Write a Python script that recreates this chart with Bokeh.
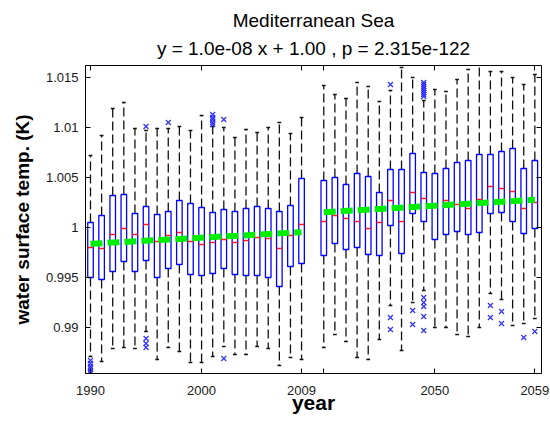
from bokeh.plotting import figure
from bokeh.models import Range1d, FixedTicker, LinearAxis, Title, CustomJSTickFormatter
from bokeh.embed import file_html
from bokeh.resources import INLINE

# ---------------- data ----------------
years = list(range(1990, 2010)) + list(range(2040, 2060))

q3 = [1.0005, 1.0012, 1.0032, 1.0033, 1.0014, 1.0021, 1.0013, 1.0016, 1.0027, 1.0024,
      1.0020, 1.0015, 1.0018, 1.0016, 1.0019, 1.0021, 1.0019, 1.0016, 1.0022, 1.0049,
      1.0047, 1.0050, 1.0043, 1.0054, 1.0051, 1.0035, 1.0058, 1.0058, 1.0074, 1.0055,
      1.0054, 1.0059, 1.0065, 1.0067, 1.0073, 1.0073, 1.0076, 1.0079, 1.0059, 1.0067]
median = [0.9980, 0.9979, 0.9993, 0.9999, 0.9993, 1.0003, 0.9986, 0.9992, 0.9995, 0.9986,
          0.9983, 0.9985, 0.9988, 0.9985, 0.9987, 0.9990, 0.9989, 0.9979, 0.9992, 1.0003,
          1.0006, 1.0012, 1.0009, 1.0006, 0.9999, 1.0005, 1.0027, 1.0006, 1.0035, 1.0029,
          1.0022, 1.0027, 1.0023, 1.0019, 1.0028, 1.0041, 1.0039, 1.0036, 1.0019, 1.0025]
q1 = [0.9950, 0.9948, 0.9956, 0.9966, 0.9956, 0.9967, 0.9950, 0.9959, 0.9963, 0.9953,
      0.9952, 0.9954, 0.9959, 0.9953, 0.9952, 0.9952, 0.9950, 0.9941, 0.9961, 0.9964,
      0.9972, 0.9984, 0.9978, 0.9980, 0.9973, 0.9972, 1.0002, 0.9974, 1.0014, 1.0006,
      0.9988, 0.9993, 0.9996, 0.9993, 0.9995, 1.0014, 1.0015, 1.0006, 0.9994, 0.9999]
whisker_hi = [1.0072, 1.0092, 1.0119, 1.0125, 1.0099, 1.0097, 1.0099, 1.0099, 1.0101, 1.0097,
              1.0112, 1.0101, 1.0100, 1.0090, 1.0098, 1.0095, 1.0100, 1.0105, 1.0094, 1.0110,
              1.0142, 1.0133, 1.0129, 1.0145, 1.0141, 1.0126, 1.0137, 1.0160, 1.0150, 1.0127,
              1.0138, 1.0136, 1.0148, 1.0158, 1.0170, 1.0156, 1.0156, 1.0150, 1.0143, 1.0153]
whisker_lo = [0.9871, 0.9866, 0.9879, 0.9880, 0.9879, 0.9896, 0.9868, 0.9880, 0.9876, 0.9865,
              0.9865, 0.9871, 0.9881, 0.9873, 0.9873, 0.9881, 0.9879, 0.9862, 0.9870, 0.9868,
              0.9880, 0.9893, 0.9886, 0.9870, 0.9868, 0.9888, 0.9922, 0.9877, 0.9925, 0.9937,
              0.9900, 0.9900, 0.9893, 0.9891, 0.9900, 0.9934, 0.9928, 0.9902, 0.9904, 0.9909]

outlier_years = [1990, 1990, 1990, 1990, 1990, 1990,
                 1995, 1995, 1995, 1995,
                 1997,
                 2001, 2001, 2001, 2001, 2001,
                 2002, 2002,
                 2046, 2046, 2046,
                 2048, 2048,
                 2049, 2049, 2049, 2049, 2049, 2049, 2049, 2049,
                 2049, 2049, 2049, 2049, 2049,
                 2055, 2055,
                 2056, 2056,
                 2058,
                 2059]
outlier_values = [0.9867, 0.9864, 0.9861, 0.9859, 0.9856, 0.9854,
                  1.0101, 0.9889, 0.9884, 0.9880,
                  1.0105,
                  1.0113, 1.0110, 1.0108, 1.0105, 1.0103,
                  1.0108, 0.9869,
                  1.0143, 0.9910, 0.9898,
                  0.9917, 0.9903,
                  1.0145, 1.0143, 1.0141, 1.0139, 1.0137, 1.0135, 1.0133, 1.0131,
                  0.9930, 0.9925, 0.9921, 0.9911, 0.9897,
                  0.9922, 0.9910,
                  0.9916, 0.9904,
                  0.9890,
                  0.9896]

trend_years = [[1990, 2009], [2040, 2059]]
trend_values = [[0.99837, 0.99953], [1.00153, 1.00277]]

tick_years = [1990, 2000, 2009, 2040, 2050, 2059]
tick_texts = ["1990", "2000", "2009", "", "2050", "2059"]
y_ticks = [0.99, 0.995, 1.0, 1.005, 1.01, 1.015]

title1 = "Mediterranean Sea"
title2 = "y = 1.0e-08 x + 1.00 , p = 2.315e-122"

# -------------- slot positions (second period shifted by one empty slot) --------------
def slot(yr):
    return yr - 1990 if yr < 2040 else yr - 2040 + 21

xs = [slot(y) for y in years]
hw = 0.25
cw = 0.17

FONT = "Liberation Sans"

p = figure(width=550, height=433,
           x_range=Range1d(-0.45, 40.6), y_range=Range1d(0.9854, 1.0162),
           output_backend="svg", toolbar_location=None, title=None,
           min_border_left=85, min_border_right=9, min_border_top=65, min_border_bottom=60)
p.background_fill_color = "white"
p.border_fill_color = "white"
p.outline_line_color = "black"
p.outline_line_width = 1
p.xgrid.visible = False
p.ygrid.visible = False

# whiskers
p.segment(x0=xs, y0=q3, x1=xs, y1=whisker_hi, line_color="#111111", line_width=1.3, line_dash="9 4")
p.segment(x0=xs, y0=q1, x1=xs, y1=whisker_lo, line_color="#111111", line_width=1.3, line_dash="9 4")
# caps
p.segment(x0=[x - cw for x in xs], y0=whisker_hi, x1=[x + cw for x in xs], y1=whisker_hi,
          line_color="#111111", line_width=1.3)
p.segment(x0=[x - cw for x in xs], y0=whisker_lo, x1=[x + cw for x in xs], y1=whisker_lo,
          line_color="#111111", line_width=1.3)
# boxes
p.quad(left=[x - hw for x in xs], right=[x + hw for x in xs], bottom=q1, top=q3,
       fill_color=None, line_color="#0000ff", line_width=1.3)
# medians
p.segment(x0=[x - hw for x in xs], y0=median, x1=[x + hw for x in xs], y1=median,
          line_color="#ff1a1a", line_width=1.5)
# trend
for ty, tv in zip(trend_years, trend_values):
    p.line(x=[slot(y) for y in ty], y=tv, line_color="#00ee00", line_width=6, line_dash="12 5")
# outliers
p.scatter(x=[slot(y) for y in outlier_years], y=outlier_values, marker="x", size=7,
          line_color="#3030ff", line_width=1.2)

# axes
xt = [slot(y) for y in tick_years]
overrides = {t: s for t, s in zip(xt, tick_texts)}
yfmt = CustomJSTickFormatter(code="return String(Math.round(tick*1000)/1000);")
blank = CustomJSTickFormatter(code="return '';")

for ax in p.xaxis:
    ax.ticker = FixedTicker(ticks=xt)
    ax.major_label_overrides = overrides
for ax in p.yaxis:
    ax.ticker = FixedTicker(ticks=y_ticks)
    ax.formatter = yfmt

p.xaxis.axis_label = "year"
p.yaxis.axis_label = "water surface temp. (K)"
for ax in list(p.xaxis) + list(p.yaxis):
    ax.major_tick_in = 5
    ax.major_tick_out = 0
    ax.minor_tick_in = 0
    ax.minor_tick_out = 0
    ax.axis_line_color = "black"
    ax.major_tick_line_color = "black"
    ax.major_label_text_font = FONT
    ax.major_label_text_font_size = "13px"
    ax.major_label_text_color = "#1a1a1a"
    ax.axis_label_text_font = FONT
    ax.axis_label_text_font_style = "bold"
    ax.axis_label_text_color = "black"
p.xaxis.major_label_standoff = 12
p.yaxis.major_label_standoff = 7
p.xaxis.axis_label_text_font_size = "21px"
p.yaxis.axis_label_text_font_size = "19px"
p.xaxis.axis_label_standoff = -7
p.yaxis.axis_label_standoff = 10

# mirrored ticks (top/right)
top_ax = LinearAxis(ticker=FixedTicker(ticks=xt), formatter=blank, major_tick_in=5, major_tick_out=0,
                    major_label_standoff=0, axis_line_color=None, major_tick_line_color="black")
right_ax = LinearAxis(ticker=FixedTicker(ticks=y_ticks), formatter=blank, major_tick_in=5, major_tick_out=0,
                      major_label_standoff=0, axis_line_color=None, major_tick_line_color="black")
p.add_layout(right_ax, "right")
p.add_layout(top_ax, "above")

p.add_layout(Title(text=title2, align="center", text_font=FONT, text_font_size="19px",
                   text_font_style="normal", text_color="black", standoff=13), "above")
p.add_layout(Title(text=title1, align="center", text_font=FONT, text_font_size="19px",
                   text_font_style="normal", text_color="black", standoff=-2), "above")

open("out.html", "w").write(file_html(p, INLINE))
